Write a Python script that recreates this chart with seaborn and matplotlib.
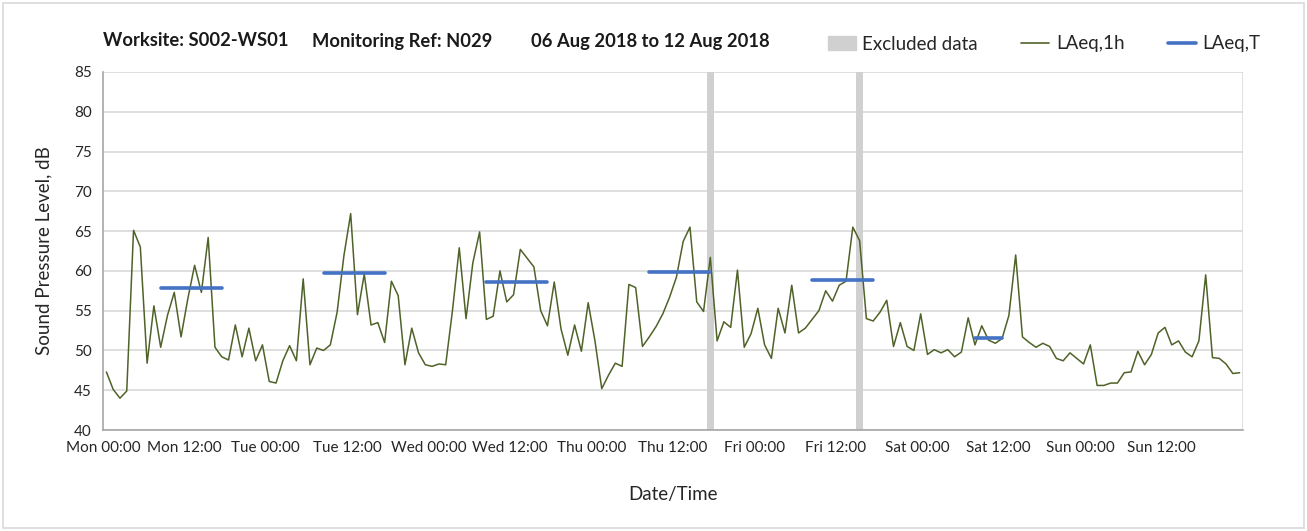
import matplotlib
matplotlib.use("Agg")
import matplotlib.pyplot as plt
import matplotlib.patches as mpatches
import matplotlib.lines as mlines
import numpy as np
import pandas as pd
import seaborn as sns

# hourly LAeq,1h values, Mon 00:00 -> Sun 23:00
laeq_1h = [
    47.3, 45.1, 44.0, 44.9, 65.1, 63.0, 48.4, 55.6, 50.4, 54.4, 57.3, 51.7,
    56.5, 60.7, 57.3, 64.2, 50.4, 49.2, 48.8, 53.2, 49.2, 52.8, 48.7, 50.7,
    46.1, 45.9, 48.7, 50.6, 48.7, 59.0, 48.2, 50.3, 50.0, 50.7, 54.8, 61.9,
    67.2, 54.5, 59.6, 53.2, 53.5, 51.0, 58.7, 56.9, 48.2, 52.8, 49.7, 48.2,
    48.0, 48.3, 48.2, 55.0, 62.9, 54.0, 61.0, 64.9, 53.9, 54.3, 60.0, 56.1,
    57.0, 62.7, 61.6, 60.5, 55.0, 53.1, 58.6, 52.7, 49.4, 53.2, 49.9, 56.0,
    51.2, 45.2, 46.9, 48.4, 48.0, 58.3, 57.9, 50.5, 51.7, 53.0, 54.6, 56.7,
    59.2, 63.7, 65.5, 56.1, 54.9, 61.7, 51.2, 53.6, 52.9, 60.1, 50.4, 52.1,
    55.3, 50.7, 49.0, 55.3, 52.2, 58.2, 52.2, 52.8, 53.9, 55.0, 57.5, 56.2,
    58.2, 58.7, 65.5, 63.8, 54.0, 53.7, 54.8, 56.3, 50.5, 53.5, 50.5, 50.0,
    54.6, 49.5, 50.1, 49.7, 50.1, 49.2, 49.8, 54.1, 50.7, 53.1, 51.3, 50.9,
    51.5, 54.4, 62.0, 51.7, 51.0, 50.4, 50.9, 50.5, 49.0, 48.7, 49.7, 49.0,
    48.3, 50.7, 45.6, 45.6, 45.9, 45.9, 47.2, 47.3, 49.9, 48.2, 49.5, 52.2,
    52.9, 50.7, 51.2, 49.8, 49.2, 51.2, 59.5, 49.1, 49.0, 48.3, 47.1, 47.2,
]

# LAeq,T periods (first hour, last hour, level)
period_start = [8, 32, 56, 80, 104, 128]
period_end = [17, 41, 65, 89, 113, 132]
period_level = [57.8, 59.75, 58.6, 59.8, 58.9, 51.6]

# excluded hours
excluded_hours = [89, 111]

day_names = ["Mon", "Tue", "Wed", "Thu", "Fri", "Sat", "Sun"]
tick_labels = [f"{d} {t}" for d in day_names for t in ("00:00", "12:00")]

green = "#4F6228"
blue = "#4472C4"
grey_band = "#D0D0D0"
grid_c = "#D9D9D9"
axis_c = "#A6A6A6"
font = "Lato"

sns.set_style("white")
plt.rcParams["font.family"] = [font, "DejaVu Sans"]

hourly = pd.DataFrame({"hour": np.arange(len(laeq_1h)) + 0.5, "level": laeq_1h})
rows = []
for i, (s, e, v) in enumerate(zip(period_start, period_end, period_level)):
    for h in range(s, e + 1):
        rows.append({"period": i, "hour": h + 0.5, "level": v})
periods = pd.DataFrame(rows)

fig = plt.figure(figsize=(13.07, 5.31), dpi=100)
ax = fig.add_axes([103 / 1307, 101 / 531, 1140 / 1307, 358 / 531])

for h in excluded_hours:
    ax.axvspan(h, h + 1, color=grey_band, lw=0, zorder=1)

sns.lineplot(data=hourly, x="hour", y="level", color=green, lw=1.1, ax=ax, zorder=3)
sns.lineplot(data=periods, x="hour", y="level", units="period", estimator=None,
             color=blue, lw=2.6, ax=ax, zorder=4)

ax.set_xlim(0, 168)
ax.set_ylim(40, 85)
ax.set_yticks(range(40, 86, 5))
ax.set_xticks(range(0, 168, 12))
ax.set_xticklabels(tick_labels)
ax.set_xticks(range(0, 169, 24), minor=True)
ax.grid(axis="x", which="minor", color=grid_c, lw=1.2, zorder=0)
ax.grid(axis="y", which="major", color=grid_c, lw=1.2, zorder=0)
ax.grid(axis="x", which="major", visible=False)
ax.set_axisbelow(True)
ax.tick_params(axis="both", which="major", length=4, color=axis_c,
               labelsize=11, labelcolor="#262626", pad=4)
ax.tick_params(axis="x", which="minor", length=0)
for side in ("top", "right"):
    ax.spines[side].set_visible(False)
for side in ("left", "bottom"):
    ax.spines[side].set_color(axis_c)
    ax.spines[side].set_linewidth(1.2)

ax.set_xlabel("Date/Time", fontsize=13.5, color="#262626", labelpad=22)
ax.set_ylabel("Sound Pressure Level, dB", fontsize=13.5, color="#262626", labelpad=16)

title_y = 1 - 41 / 531
fig.text(103 / 1307, title_y, "Worksite: S002-WS01", fontsize=13.2,
         fontweight="bold", va="center", color="#1a1a1a")
fig.text(312 / 1307, title_y, "Monitoring Ref: N029", fontsize=13.2,
         fontweight="bold", va="center", color="#1a1a1a")
fig.text(531 / 1307, title_y, "06 Aug 2018 to 12 Aug 2018", fontsize=13.2,
         fontweight="bold", va="center", color="#1a1a1a")

handles = [
    mpatches.Patch(color=grey_band, label="Excluded data"),
    mlines.Line2D([], [], color=green, lw=1.2, label="LAeq,1h"),
    mlines.Line2D([], [], color=blue, lw=2.6, label="LAeq,T"),
]
fig.legend(handles=handles, loc="center", bbox_to_anchor=(1044 / 1307, 1 - 44 / 531),
           ncol=3, frameon=False, fontsize=13.5, handlelength=1.5,
           handletextpad=0.35, columnspacing=2.3)

fig.patches.append(mpatches.Rectangle((3 / 1307, 3 / 531), 1301 / 1307, 525 / 531,
                                      transform=fig.transFigure, fill=False,
                                      edgecolor=grid_c, lw=1.2))

fig.savefig("out.png", dpi=100)
